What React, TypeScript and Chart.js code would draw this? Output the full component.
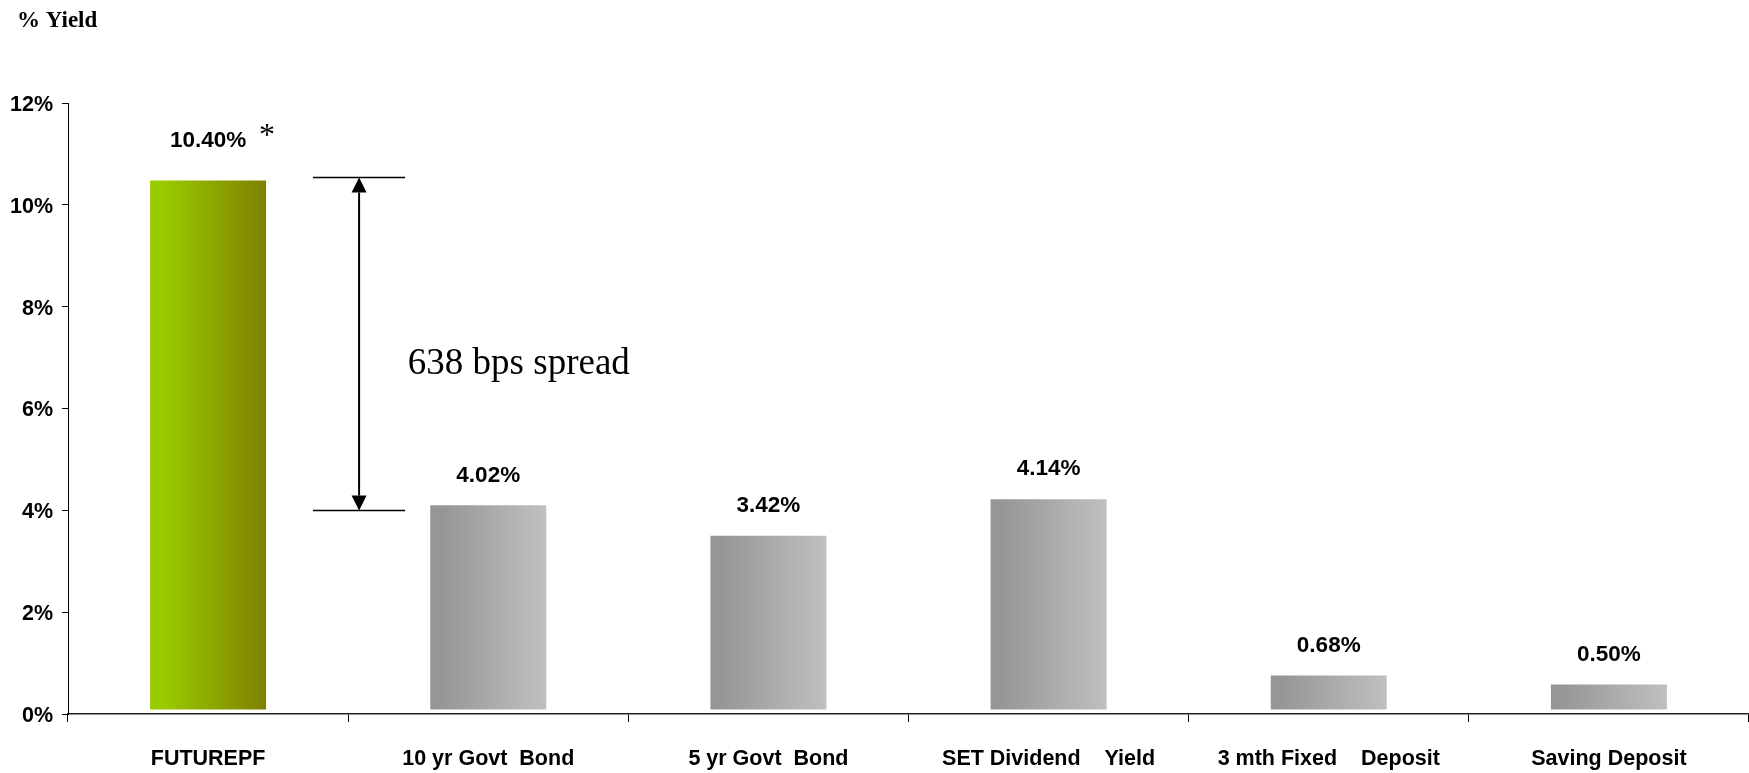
import React, { useEffect, useRef } from "react";
import { Chart, registerables } from "chart.js";

Chart.register(...registerables);

// ---- data ----
const categories = [
  "FUTUREPF",
  "10 yr Govt  Bond",
  "5 yr Govt  Bond",
  "SET Dividend    Yield",
  "3 mth Fixed    Deposit",
  "Saving Deposit",
];
const yields = [10.4, 4.02, 3.42, 4.14, 0.68, 0.5];
const valueLabels = ["10.40%", "4.02%", "3.42%", "4.14%", "0.68%", "0.50%"];
const yTickValues = [0, 2, 4, 6, 8, 10, 12];
const axisTitle = "% Yield";
const spreadText = "638 bps spread";
const spreadTop = 10.55;
const spreadBottom = 4.0;
const footnoteMark = "*";

// ---- style ----
const W = 1749;
const H = 773;
const catPct = 0.414;
const greenStops = ["#99cc00", "#808000"];
const grayStops = ["#969696", "#c0c0c0"];
const spreadLineFrom = 0.374;
const spreadLineTo = 0.703;
const spreadArrowAt = 0.539;
const spreadTextAt = 0.713;
const barLift = 4;

function hasFont(name: string): boolean {
  const c = document.createElement("canvas").getContext("2d");
  if (!c) return false;
  const s = "FUTUREPF 10.40% Deposit";
  c.font = "bold 40px monospace";
  const w0 = c.measureText(s).width;
  c.font = `bold 40px '${name}', monospace`;
  const w1 = c.measureText(s).width;
  return Math.abs(w0 - w1) > 0.5;
}

export default function App() {
  const ref = useRef<HTMLCanvasElement>(null);
  useEffect(() => {
    document.body.style.margin = "0";
    const narrow = hasFont("Liberation Sans Narrow");
    const family = narrow
      ? "'Liberation Sans Narrow', 'Liberation Sans', Arial, sans-serif"
      : "'Liberation Sans', Arial, sans-serif";
    const tickSize = narrow ? 24 : 21.5;
    const valueSize = narrow ? 26 : 22.5;

    const overlay = {
      id: "overlay",
      beforeDatasetsDraw(chart: any) {
        chart.ctx.save();
        chart.ctx.translate(0, -barLift);
      },
      afterDatasetsDraw(chart: any) {
        const ctx = chart.ctx as CanvasRenderingContext2D;
        ctx.restore();
        const xs = chart.scales.x;
        const ys = chart.scales.y;
        const meta = chart.getDatasetMeta(0);
        ctx.save();
        ctx.fillStyle = "#000";
        ctx.font = `bold ${valueSize}px ${family}`;
        ctx.textAlign = "center";
        ctx.textBaseline = "middle";
        meta.data.forEach((bar: any, i: number) => {
          const off = i === 0 ? 44 : 34;
          ctx.fillText(valueLabels[i], bar.x, ys.getPixelForValue(yields[i]) - off);
        });
        const b0 = meta.data[0];
        ctx.font = "32px 'Liberation Serif', serif";
        ctx.textBaseline = "alphabetic";
        ctx.fillText(footnoteMark, b0.x + b0.width / 2 + 1, ys.getPixelForValue(yields[0]) - 39);

        const x1 = xs.getPixelForValue(spreadLineFrom);
        const x2 = xs.getPixelForValue(spreadLineTo);
        const xa = xs.getPixelForValue(spreadArrowAt);
        const yt = Math.round(ys.getPixelForValue(spreadTop)) + 0.5;
        const yb = Math.round(ys.getPixelForValue(spreadBottom)) + 0.5;
        ctx.strokeStyle = "#000";
        ctx.lineWidth = 1.5;
        ctx.beginPath();
        ctx.moveTo(x1, yt);
        ctx.lineTo(x2, yt);
        ctx.moveTo(x1, yb);
        ctx.lineTo(x2, yb);
        ctx.stroke();
        const ah = 15;
        const aw = 7.5;
        ctx.lineWidth = 2;
        ctx.beginPath();
        ctx.moveTo(xa, yt + ah);
        ctx.lineTo(xa, yb - ah);
        ctx.stroke();
        ctx.beginPath();
        ctx.moveTo(xa, yt);
        ctx.lineTo(xa - aw, yt + ah);
        ctx.lineTo(xa + aw, yt + ah);
        ctx.closePath();
        ctx.moveTo(xa, yb);
        ctx.lineTo(xa - aw, yb - ah);
        ctx.lineTo(xa + aw, yb - ah);
        ctx.closePath();
        ctx.fill();
        ctx.font = "37px 'Liberation Serif', serif";
        ctx.textAlign = "left";
        const yMid = (ys.getPixelForValue(spreadTop) + ys.getPixelForValue(spreadBottom)) / 2;
        ctx.fillText(spreadText, xs.getPixelForValue(spreadTextAt), yMid + 30);

        ctx.font = "bold 23px 'Liberation Serif', serif";
        ctx.fillText(axisTitle, 17, 27);
        ctx.restore();
      },
    };

    const canvas = ref.current!;
    const chart = new Chart(canvas, {
      type: "bar",
      data: {
        labels: categories,
        datasets: [
          {
            data: yields,
            categoryPercentage: catPct,
            barPercentage: 1,
            borderWidth: 0,
            backgroundColor: (c: any) => {
              const ch = c.chart;
              const xs = ch.scales?.x;
              if (!ch.chartArea || !xs || c.type !== "data") return grayStops[0];
              const cx = xs.getPixelForValue(c.dataIndex);
              const w = (xs.width / categories.length) * catPct;
              const g = ch.ctx.createLinearGradient(cx - w / 2, 0, cx + w / 2, 0);
              const s = c.dataIndex === 0 ? greenStops : grayStops;
              g.addColorStop(0, s[0]);
              g.addColorStop(0.1, s[0]);
              g.addColorStop(1, s[1]);
              return g;
            },
          },
        ],
      },
      options: {
        responsive: false,
        animation: false,
        layout: { padding: { top: 103, left: 0, right: 0, bottom: 0 } },
        plugins: { legend: { display: false }, tooltip: { enabled: false }, title: { display: false } },
        scales: {
          x: {
            afterFit: (s: any) => {
              s.height = H - 714;
            },
            grid: { offset: true, drawOnChartArea: false, drawTicks: true, tickLength: 8, color: "#000" },
            border: { display: true, color: "#222", width: 1.5 },
            ticks: {
              color: "#000",
              font: { family, size: tickSize, weight: "bold" },
              padding: 24,
              maxRotation: 0,
              autoSkip: false,
            },
          },
          y: {
            min: 0,
            max: 12,
            afterFit: (s: any) => {
              s.width = 68;
            },
            afterBuildTicks: (s: any) => {
              s.ticks = yTickValues.map((v) => ({ value: v }));
            },
            grid: { drawOnChartArea: false, drawTicks: true, tickLength: 6, color: "#000" },
            border: { display: true, color: "#000", width: 1 },
            ticks: {
              color: "#000",
              font: { family, size: tickSize, weight: "bold" },
              padding: 9,
              labelOffset: 2,
              callback: (v: any) => `${v}%`,
            },
          },
        },
      },
      plugins: [overlay],
    });
    return () => chart.destroy();
  }, []);
  return (
    <div style={{ width: W, height: H, background: "#fff" }}>
      <canvas ref={ref} width={W} height={H} style={{ display: "block" }} />
    </div>
  );
}
